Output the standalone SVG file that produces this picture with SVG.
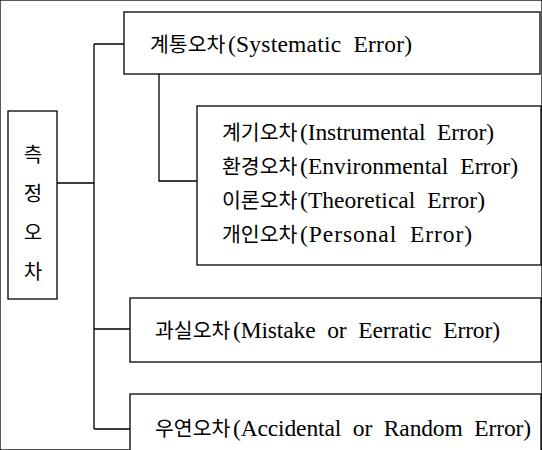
<svg xmlns="http://www.w3.org/2000/svg" width="542" height="450" viewBox="0 0 542 450">
<style>
rect{fill:#fff;stroke:#000;stroke-width:1.3}
.c{fill:none;stroke:#000;stroke-width:1.3}
text{font-family:"Liberation Serif","Noto Sans CJK KR",serif;font-size:23.5px;fill:#000;word-spacing:6px}
.k{font-family:"Noto Sans CJK KR",sans-serif;font-size:20.5px}
.v{text-anchor:middle;font-family:"Noto Sans CJK KR",sans-serif;font-size:20px}
</style>
<rect width="542" height="450" fill="#fff" stroke="none"/>
<g id="connectors">
<path class="c" d="M57,183H94M94,44V429M94,44H124M94,329H130M94,429H130M159,74V181H197"/>
</g>
<g id="root">
<rect x="8" y="111" width="49" height="188"/>
<text class="v" x="33" y="162">측</text>
<text class="v" x="33" y="201">정</text>
<text class="v" x="33" y="240">오</text>
<text class="v" x="33" y="279">차</text>
</g>
<g id="systematic">
<rect x="124" y="12" width="416" height="62"/>
<text x="150" y="52"><tspan class="k">계통오차</tspan><tspan x="228" textLength="184">(Systematic Error)</tspan></text>
</g>
<g id="systematic-types">
<rect x="197" y="106" width="344" height="159"/>
<text x="222" y="140"><tspan class="k">계기오차</tspan><tspan x="300" textLength="194">(Instrumental Error)</tspan></text>
<text x="222" y="174"><tspan class="k">환경오차</tspan><tspan x="300" textLength="218">(Environmental Error)</tspan></text>
<text x="222" y="208"><tspan class="k">이론오차</tspan><tspan x="300" textLength="185">(Theoretical Error)</tspan></text>
<text x="222" y="242"><tspan class="k">개인오차</tspan><tspan x="300" textLength="172">(Personal Error)</tspan></text>
</g>
<g id="mistake">
<rect x="130" y="298" width="411" height="64"/>
<text x="155" y="338"><tspan class="k">과실오차</tspan><tspan x="233" textLength="267">(Mistake or Eerratic Error)</tspan></text>
</g>
<g id="random">
<rect x="130" y="394" width="411" height="70"/>
<text x="155" y="436"><tspan class="k">우연오차</tspan><tspan x="233" textLength="298">(Accidental or Random Error)</tspan></text>
</g>
</svg>
